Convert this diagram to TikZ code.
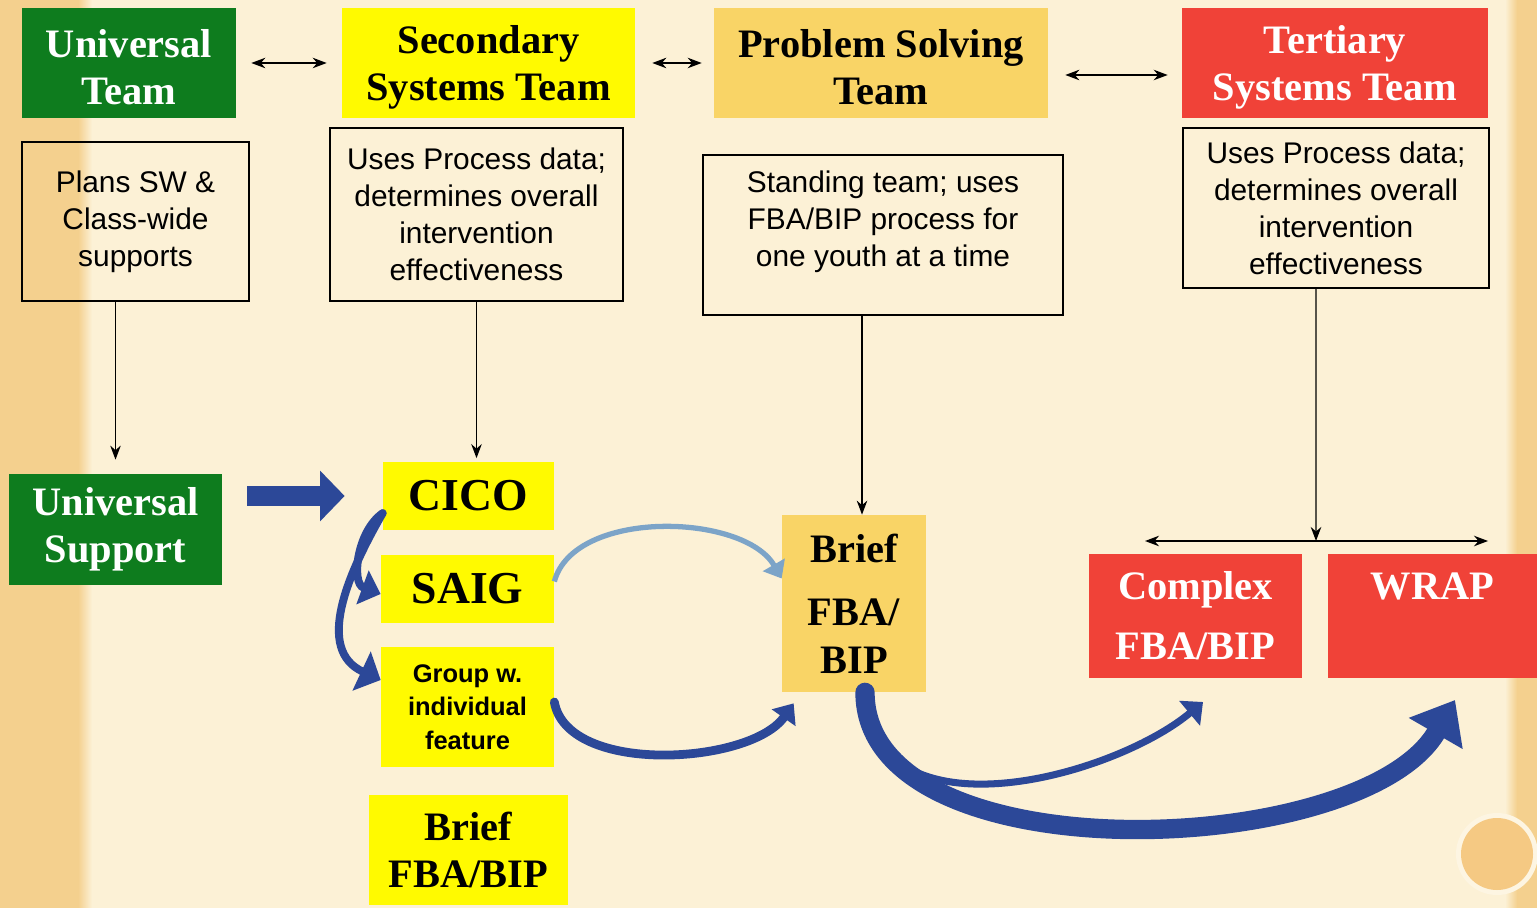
\documentclass[tikz,border=0pt]{standalone}
\usepackage{fontspec}
\setmainfont{Liberation Serif}
\setsansfont{Liberation Sans}
\usetikzlibrary{arrows.meta,calc}

\definecolor{paper}{RGB}{252,241,214}
\definecolor{stripe}{RGB}{244,208,142}
\definecolor{uni}{RGB}{14,124,30}
\definecolor{sec}{RGB}{255,250,0}
\definecolor{prob}{RGB}{249,212,102}
\definecolor{ter}{RGB}{240,66,56}
\definecolor{darkarc}{RGB}{44,72,152}
\definecolor{lightarc}{RGB}{124,164,200}

\begin{document}
\begin{tikzpicture}[x=0.02cm, y=-0.02cm,
  tier/.style={rectangle, fill=#1, align=center, inner sep=0pt, font=\fontsize{23}{27}\selectfont\bfseries},
  note/.style={rectangle, draw, line width=0.8pt, align=center, inner sep=0pt, font=\sffamily\fontsize{17}{21}\selectfont},
  link/.style={line width=0.8pt, -{Stealth[length=8pt,width=6pt]}},
  both/.style={line width=0.8pt, {Stealth[length=8pt,width=6pt]}-{Stealth[length=8pt,width=6pt]}},
  swoop/.style={draw=darkarc, line width=#1, line cap=round}]

\useasboundingbox (0,0) rectangle (1537,908);
\fill[paper] (0,0) rectangle (1537,908);
\fill[stripe] (0,0) rectangle (78,908);
\shade[left color=stripe, right color=paper] (78,0) rectangle (92,908);
\fill[stripe] (1517,0) rectangle (1537,908);
\shade[left color=paper, right color=stripe] (1505,0) rectangle (1517,908);
\fill[white!30!paper] (1497,854) circle (41);
\fill[stripe!92!orange] (1497,854) circle (36);

\node[tier=uni, text=white, minimum width=4.28cm, minimum height=2.2cm] (uteam) at (129,63) {\\[-6pt]Universal\\Team};
\node[tier=sec, minimum width=5.86cm, minimum height=2.2cm] (steam) at (488.5,63) {\\[-6pt]Secondary\\Systems Team};
\node[tier=prob, minimum width=6.68cm, minimum height=2.2cm] (pteam) at (881,63) {\\[-6pt]Problem Solving\\Team};
\node[tier=ter, text=white, minimum width=6.12cm, minimum height=2.2cm] (tteam) at (1335,63) {\\[-6pt]Tertiary\\Systems Team};

\node[note, minimum width=4.54cm, minimum height=3.18cm] (uplan) at (135.5,221.5) {Plans SW \&\\Class-wide\\supports};
\node[note, minimum width=5.86cm, minimum height=3.46cm] (sdata) at (476.5,214.5) {Uses Process data;\\determines overall\\intervention\\effectiveness};
\node[note, minimum width=7.2cm, minimum height=3.2cm] (pstand) at (883,235) {Standing team; uses\\FBA/BIP process for\\one youth at a time\\[-2pt]\mbox{}};
\node[note, minimum width=6.12cm, minimum height=3.2cm] (tdata) at (1336,208) {Uses Process data;\\determines overall\\intervention\\effectiveness};

\node[tier=uni, text=white, minimum width=4.26cm, minimum height=2.22cm] (usupport) at (115.5,529.5) {Universal\\Support};
\node[tier=sec, font=\fontsize{26}{30}\selectfont\bfseries, minimum width=3.42cm, minimum height=1.36cm] (cico) at (468.5,496) {CICO};
\node[tier=sec, font=\fontsize{26}{30}\selectfont\bfseries, minimum width=3.46cm, minimum height=1.36cm] (saig) at (467.5,589) {SAIG};
\node[tier=sec, font=\sffamily\bfseries\fontsize{14.5}{19}\selectfont, minimum width=3.46cm, minimum height=2.4cm] (group) at (467.5,707) {Group w.\\individual\\feature};
\node[tier=sec, minimum width=3.98cm, minimum height=2.2cm] (sbrief) at (468.5,850) {Brief\\FBA/BIP};
\node[tier=prob, minimum width=2.88cm, minimum height=3.54cm] (pbrief) at (854,603.5) {Brief\\[9pt]FBA/\\BIP};
\node[tier=ter, text=white, minimum width=4.26cm, minimum height=2.48cm] (complex) at (1195.5,616) {Complex\\[7pt]FBA/BIP};
\node[tier=ter, text=white, minimum width=4.18cm, minimum height=2.48cm] (wrap) at (1432.5,616) {WRAP\\[7pt]\phantom{FBA/BIP}};

\draw[both, shorten <=0.3cm, shorten >=0.3cm] (uteam) -- (steam);
\draw[both, shorten <=0.34cm, shorten >=0.24cm] (steam) -- (pteam);
\draw[both, shorten <=0.34cm, shorten >=0.28cm] ([yshift=-0.24cm]pteam.east) -- ([yshift=-0.24cm]tteam.west);

\draw[link, shorten >=0.28cm] (uplan.south -| usupport.north) -- (usupport.north);
\draw[link, shorten >=2pt] (sdata.south) -- (sdata.south |- cico.north);
\coordinate (pdrop) at ([xshift=-0.42cm]pstand.south);
\draw[link] (pdrop) -- (pdrop |- pbrief.north);
\coordinate (tdrop) at ([xshift=-0.4cm]tdata.south);
\coordinate (tsplit) at (1316,541);
\coordinate (tleft) at (1145,541);
\coordinate (tright) at (1488,541);
\draw[link] (tdrop) -- (tsplit);
\draw[both] (tleft) -- (tright);

\draw[darkarc, line width=11pt, -{Triangle[length=14pt,width=28pt]}, shorten <=0.5cm, shorten >=0.76cm] (cico -| usupport.east) -- (cico.west);
\coordinate (cfork) at ($(cico.west)!0.5!(cico.south west)$);
\draw[swoop=4.5pt, -{Triangle[length=11pt,width=20pt]}] (cfork) to[out=215,in=160] ([yshift=-0.1cm]saig.west);
\draw[swoop=4.5pt, -{Triangle[length=12pt,width=24pt]}] (cfork) to[out=240,in=155,looseness=1.1] ([yshift=0.54cm]group.west);
\draw[draw=lightarc, line width=3pt, -{Triangle[length=9pt,width=14pt]}] ([yshift=0.15cm]saig.east) to[out=75,in=120,looseness=0.85] ([yshift=0.5cm]pbrief.west);
\draw[swoop=5pt, -{Triangle[length=10pt,width=16pt]}] ([yshift=0.1cm]group.east) to[out=-80,in=-125,looseness=0.8] ([xshift=0.24cm,yshift=-0.22cm]pbrief.south west);

\coordinate (wtip) at (1455,700);
\coordinate (ctip) at (1203,702);
\coordinate (bfork) at ([xshift=0.5cm,yshift=-1cm]pbrief.south);
\draw[swoop=11pt, -{Triangle[length=22pt,width=34pt]}] ([xshift=0.22cm]pbrief.south) to[out=-90,in=-120,looseness=0.8] (wtip);
\draw[swoop=4pt, -{Triangle[length=10pt,width=18pt]}] (bfork) to[out=-55,in=-140,looseness=0.8] (ctip);
\end{tikzpicture}
\end{document}
